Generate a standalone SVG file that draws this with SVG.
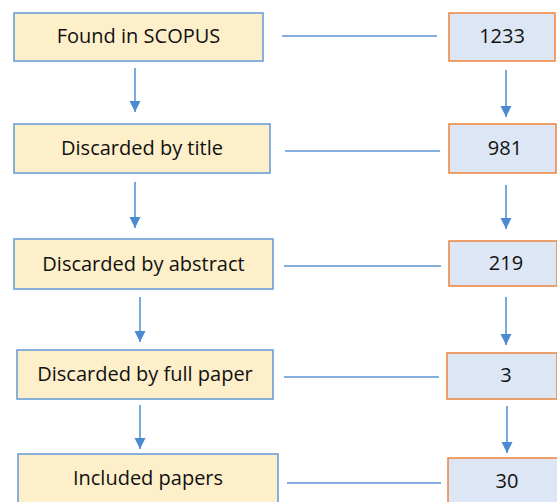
<svg xmlns="http://www.w3.org/2000/svg" width="557" height="502" viewBox="0 0 557 502">
<style>
.step rect{fill:#fdefc9;stroke:#6b9fd6;stroke-width:1.6}
.count rect{fill:#dce6f4;stroke:#ee8a45;stroke-width:1.6}
text{font-family:"Open Sans","Noto Sans","Liberation Sans",sans-serif;font-size:20px;fill:#111111;text-anchor:middle}
.conn line{stroke:#5b95d3;stroke-width:1.4}
.conn .arr{stroke-width:1.6}
</style>
<defs>
<marker id="ah" viewBox="0 0 10 10" refX="10" refY="5" markerWidth="7" markerHeight="8" markerUnits="strokeWidth" orient="auto">
<path d="M0,0 L10,5 L0,10 z" fill="#4a8ad0"/>
</marker>
</defs>
<rect width="557" height="502" fill="#ffffff"/>
<g id="connectors" class="conn">
<line x1="282" y1="36" x2="437" y2="36"/>
<line x1="285" y1="151" x2="440" y2="151"/>
<line x1="284" y1="266" x2="441" y2="266"/>
<line x1="284" y1="377" x2="439" y2="377"/>
<line x1="287" y1="483" x2="441" y2="483"/>
<line class="arr" x1="135" y1="68" x2="135" y2="112" marker-end="url(#ah)"/>
<line class="arr" x1="135" y1="182" x2="135" y2="228" marker-end="url(#ah)"/>
<line class="arr" x1="140" y1="297" x2="140" y2="342" marker-end="url(#ah)"/>
<line class="arr" x1="140" y1="405" x2="140" y2="449" marker-end="url(#ah)"/>
<line class="arr" x1="506" y1="70" x2="506" y2="117" marker-end="url(#ah)"/>
<line class="arr" x1="506" y1="185" x2="506" y2="229" marker-end="url(#ah)"/>
<line class="arr" x1="506" y1="297" x2="506" y2="345" marker-end="url(#ah)"/>
<line class="arr" x1="507" y1="406" x2="507" y2="453" marker-end="url(#ah)"/>
</g>
<g id="n1" class="step"><rect x="14" y="13" width="249" height="48"/><text x="138.5" y="43">Found in SCOPUS</text></g>
<g id="n2" class="step"><rect x="14" y="124" width="256" height="49"/><text x="142" y="155">Discarded by title</text></g>
<g id="n3" class="step"><rect x="14" y="239" width="259" height="50"/><text x="143.5" y="271">Discarded by abstract</text></g>
<g id="n4" class="step"><rect x="17" y="350" width="256" height="49"/><text x="145" y="381">Discarded by full paper</text></g>
<g id="n5" class="step"><rect x="18" y="454" width="260" height="52"/><text x="148" y="485">Included papers</text></g>
<g id="c1" class="count"><rect x="449" y="13" width="106" height="48"/><text x="502" y="43">1233</text></g>
<g id="c2" class="count"><rect x="449" y="124" width="107" height="49"/><text x="505" y="155">981</text></g>
<g id="c3" class="count"><rect x="449" y="241" width="108" height="45"/><text x="506" y="270">219</text></g>
<g id="c4" class="count"><rect x="447" y="353" width="110" height="46"/><text x="506" y="382">3</text></g>
<g id="c5" class="count"><rect x="448" y="458" width="110" height="48"/><text x="507" y="488">30</text></g>
</svg>
